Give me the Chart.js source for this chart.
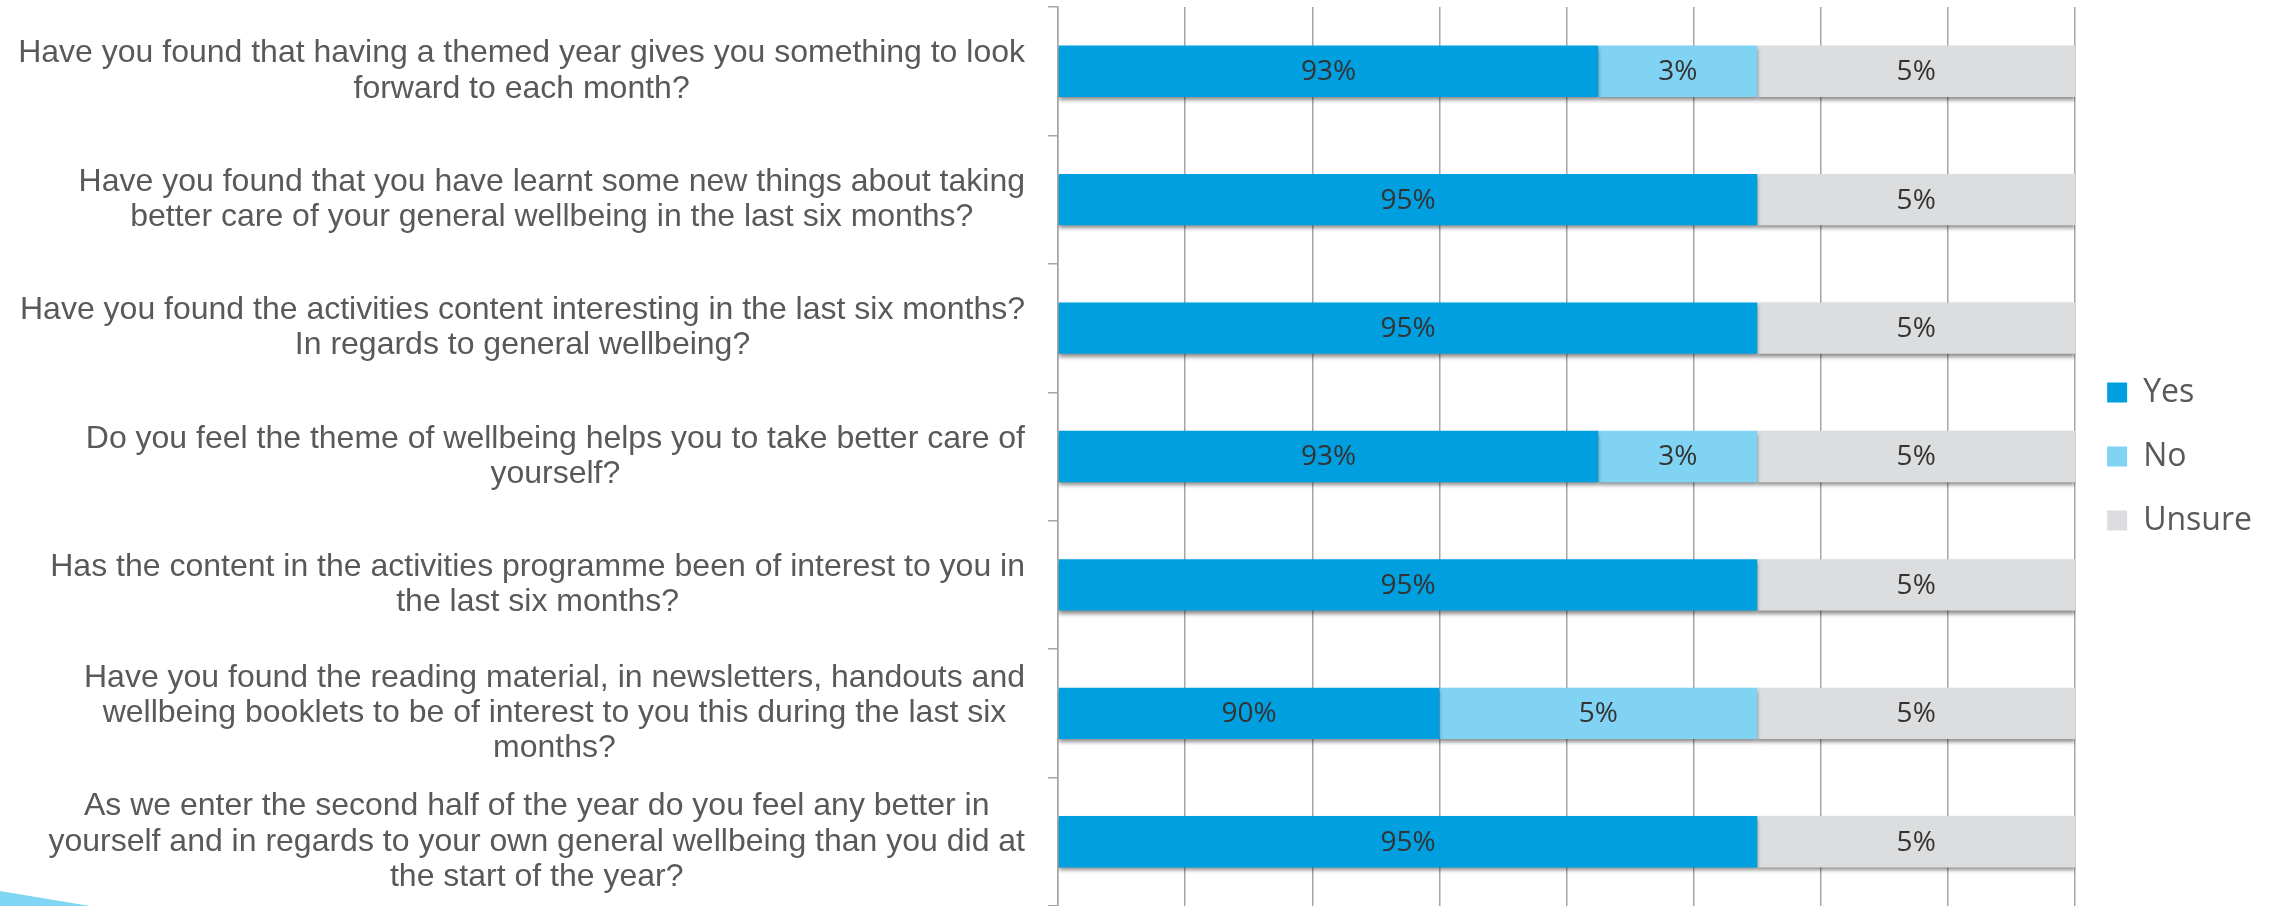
<!DOCTYPE html>
<html>
<head>
<meta charset="utf-8">
<title>Wellbeing survey</title>
<script src="https://cdn.jsdelivr.net/npm/chart.js@4.4.0/dist/chart.umd.min.js"></script>
<style>
  html, body { margin: 0; padding: 0; background: #fff; }
  #wrap { position: relative; width: 2288px; height: 906px; overflow: hidden; }
  #swoosh {
    position: absolute; left: 0; bottom: 0; width: 90px; height: 15px;
    background: #7fd6f4; clip-path: polygon(0 0, 100% 100%, 0 100%);
  }
</style>
</head>
<body>
<div id="wrap">
  <canvas id="chart" width="2288" height="906"></canvas>
  <div id="swoosh"></div>
</div>
<script>
/* ---------- data ---------- */
const questions = [
  ['Have you found that having a themed year gives you something to look', 'forward to each month?'],
  ['Have you found that you have learnt some new things about taking', 'better care of your general wellbeing in the last six months?'],
  ['Have you found the activities content interesting in the last six months?', 'In regards to general wellbeing?'],
  ['Do you feel the theme of wellbeing helps you to take better care of', 'yourself?'],
  ['Has the content in the activities programme been of interest to you in', 'the last six months?'],
  ['Have you found the reading material, in newsletters, handouts and', 'wellbeing booklets to be of interest to you this during the last six', 'months?'],
  ['As we enter the second half of the year do you feel any better in', 'yourself and in regards to your own general wellbeing than you did at', 'the start of the year?']
];

const seriesNames = ['Yes', 'No', 'Unsure'];

// bar lengths as drawn (grid units, 8 across)
const yesBar    = [4.25, 5.5, 5.5, 4.25, 5.5, 3,   5.5];
const noBar     = [1.25, 0,   0,   1.25, 0,   2.5, 0];
const unsureBar = [2.5,  2.5, 2.5, 2.5,  2.5, 2.5, 2.5];

// printed labels
const yesPct    = ['93%', '95%', '95%', '93%', '95%', '90%', '95%'];
const noPct     = ['3%',  '',    '',    '3%',  '',    '5%',  ''];
const unsurePct = ['5%',  '5%',  '5%',  '5%',  '5%',  '5%',  '5%'];

const axisMax = 8;

/* ---------- plugins ---------- */
const barShadow = {
  id: 'barShadow',
  beforeDatasetsDraw(chart) {
    const ctx = chart.ctx;
    ctx.save();
    ctx.shadowColor = 'rgba(0,0,0,0.45)';
    ctx.shadowBlur = 4;
    ctx.shadowOffsetX = 0;
    ctx.shadowOffsetY = 3;
  },
  afterDatasetsDraw(chart) {
    chart.ctx.restore();
  }
};

const segmentLabels = {
  id: 'segmentLabels',
  afterDatasetsDraw(chart) {
    const ctx = chart.ctx;
    ctx.save();
    ctx.font = '28px "Open Sans"';
    ctx.fillStyle = '#333333';
    ctx.textAlign = 'center';
    ctx.textBaseline = 'middle';
    chart.data.datasets.forEach((ds, i) => {
      chart.getDatasetMeta(i).data.forEach((bar, j) => {
        const txt = ds.pctLabels[j];
        if (!txt) return;
        const p = bar.getProps(['x', 'y', 'base'], true);
        ctx.fillText(txt, (p.x + p.base) / 2, p.y + 1);
      });
    });
    ctx.restore();
  }
};

// question text: each block sits against the axis, its lines centred within it
const questionLabels = {
  id: 'questionLabels',
  afterDraw(chart) {
    const scale = chart.scales.y;
    const ctx = chart.ctx;
    const lineH = 35.2;
    ctx.save();
    ctx.font = '32px "Liberation Sans", Arial, sans-serif';
    ctx.fillStyle = '#595959';
    ctx.textAlign = 'center';
    ctx.textBaseline = 'middle';
    const right = scale.right - 33;
    chart.data.labels.forEach((lines, i) => {
      const w = Math.max(...lines.map(t => ctx.measureText(t).width));
      const cx = right - w / 2;
      const cy = scale.getPixelForTick(i);
      lines.forEach((t, k) => {
        ctx.fillText(t, cx, cy + (k - (lines.length - 1) / 2) * lineH);
      });
    });
    ctx.restore();
  }
};

/* ---------- chart ---------- */
const gridGray = '#a6a6a6';

new Chart(document.getElementById('chart'), {
  type: 'bar',
  data: {
    labels: questions,
    datasets: [
      { label: seriesNames[0], data: yesBar,    pctLabels: yesPct,    backgroundColor: '#009fe0' },
      { label: seriesNames[1], data: noBar,     pctLabels: noPct,     backgroundColor: '#80d3f3' },
      { label: seriesNames[2], data: unsureBar, pctLabels: unsurePct, backgroundColor: '#dcdddf' }
    ].map(d => Object.assign(d, { borderWidth: 0, barPercentage: 0.4, categoryPercentage: 1 }))
  },
  options: {
    indexAxis: 'y',
    responsive: false,
    animation: false,
    devicePixelRatio: 1,
    layout: { padding: { top: 7, bottom: 0, left: 0, right: 26 } },
    plugins: {
      legend: {
        position: 'right',
        labels: {
          boxWidth: 20, boxHeight: 20, padding: 32,
          color: '#595959',
          font: { family: '"Open Sans"', size: 32 }
        }
      },
      tooltip: { enabled: false }
    },
    scales: {
      x: {
        stacked: true, min: 0, max: axisMax,
        ticks: { display: false, stepSize: 1 },
        grid: { color: gridGray, lineWidth: 1.5, drawTicks: false },
        border: { display: false }
      },
      y: {
        stacked: true,
        ticks: { display: false },
        grid: { drawOnChartArea: false, tickLength: 10, color: gridGray, lineWidth: 1.5 },
        border: { color: gridGray, width: 1.5 },
        afterFit(scale) {
          // room for the long questions, no overhang padding
          scale.width = 1058;
          scale.paddingTop = 0;
          scale.paddingBottom = 0;
        }
      }
    }
  },
  plugins: [barShadow, segmentLabels, questionLabels]
});
</script>
</body>
</html>
